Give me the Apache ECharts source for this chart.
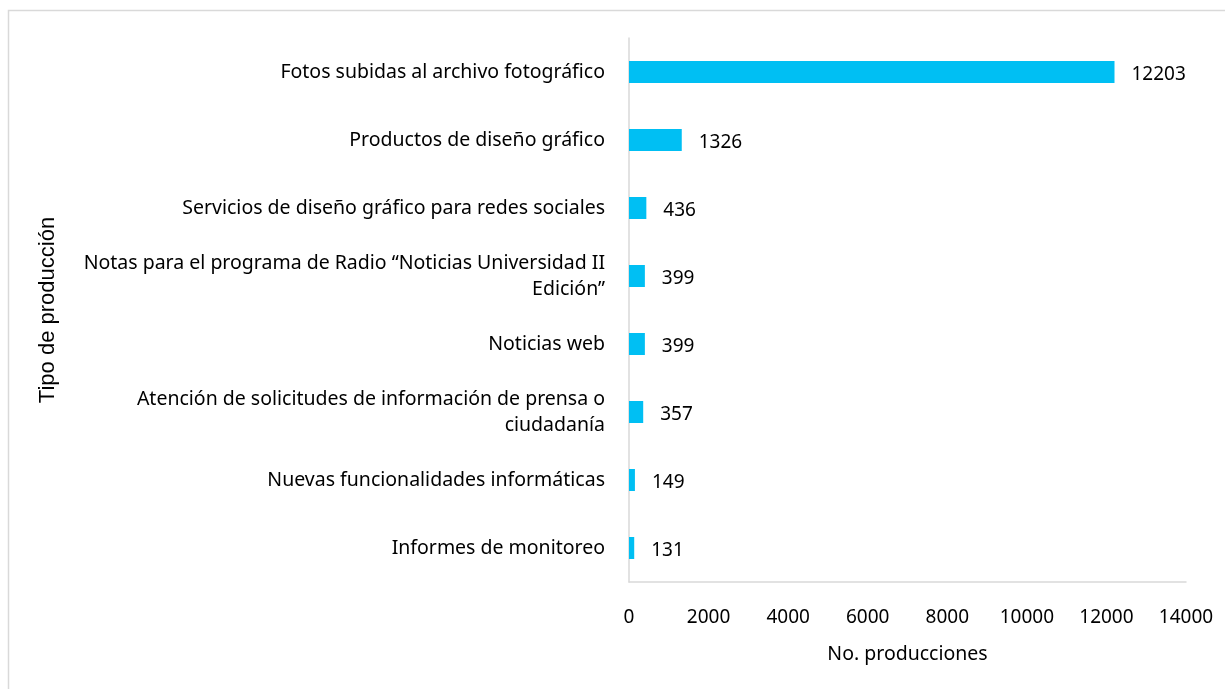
<!DOCTYPE html>
<html>
<head>
<meta charset="utf-8">
<script src="https://cdn.jsdelivr.net/npm/echarts@6/dist/echarts.min.js"></script>
<style>
html,body{margin:0;padding:0;background:#fff;}
#chart{width:1225px;height:689px;}
</style>
</head>
<body>
<div id="chart"></div>
<script>
const categories = [
  "Fotos subidas al archivo fotográfico",
  "Productos de diseño gráfico",
  "Servicios de diseño gráfico para redes sociales",
  "Notas para el programa de Radio “Noticias Universidad II\nEdición”",
  "Noticias web",
  "Atención de solicitudes de información de prensa o\nciudadanía",
  "Nuevas funcionalidades informáticas",
  "Informes de monitoreo"
];
const values = [12203, 1326, 436, 399, 399, 357, 149, 131];
const xTicks = { min: 0, max: 14000, interval: 2000 };

const chart = echarts.init(document.getElementById('chart'));
const font = "'Noto Sans', sans-serif";
chart.setOption({
  animation: false,
  graphic: [{
    type: 'rect',
    shape: { x: 8.5, y: 10.5, width: 1240, height: 700 },
    style: { fill: 'none', stroke: '#d9d9d9', lineWidth: 1.5 },
    silent: true
  }],
  grid: { left: 629, right: 39, top: 38, bottom: 107, containLabel: false },
  xAxis: {
    type: 'value',
    min: xTicks.min, max: xTicks.max, interval: xTicks.interval,
    name: 'No. producciones',
    nameLocation: 'middle',
    nameGap: 62,
    nameTextStyle: { fontSize: 19.5, color: '#000', fontFamily: font },
    axisLine: { show: true, lineStyle: { color: '#d9d9d9', width: 1.5 } },
    axisTick: { show: false },
    splitLine: { show: false },
    axisLabel: { fontSize: 19, color: '#000', margin: 26, fontFamily: font,
      formatter: function (v) { return String(v); } }
  },
  yAxis: {
    type: 'category',
    data: categories,
    inverse: true,
    name: 'Tipo de producción',
    nameLocation: 'middle',
    nameGap: 570,
    nameRotate: 90,
    nameTextStyle: { fontSize: 22, color: '#000', fontFamily: "'Liberation Sans', Arial, sans-serif" },
    axisLine: { show: true, lineStyle: { color: '#d9d9d9', width: 1.5 } },
    axisTick: { show: false },
    axisLabel: { fontSize: 19.5, color: '#000', margin: 24, align: 'right', lineHeight: 26,
      padding: [5, 0, 0, 0], fontFamily: font }
  },
  series: [{
    type: 'bar',
    data: values,
    barWidth: 22,
    itemStyle: { color: '#00BFF3' },
    label: {
      show: true, position: 'right', distance: 17, offset: [0, 3],
      fontSize: 19, color: '#000', fontFamily: font
    }
  }]
});
</script>
</body>
</html>
